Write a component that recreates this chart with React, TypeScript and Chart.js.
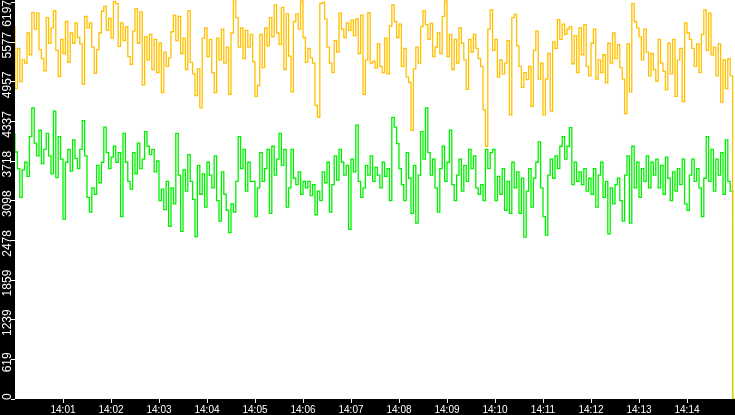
import { useEffect, useRef } from "react";
import Chart from "chart.js/auto";

// one sample every 3 s, starting at 14:00:00
const SAMPLE_SECONDS = 3;

const xTickLabels = [
  "14:01", "14:02", "14:03", "14:04", "14:05", "14:06", "14:07",
  "14:08", "14:09", "14:10", "14:11", "14:12", "14:13", "14:14",
];

const yTickStep = 619.7;
const yTickLabels = ["0", "619", "1239", "1859", "2478", "3098", "3718", "4337", "4957", "5577", "6197"];
const yMax = 6236;

const yellowValues = [
  5830, 4850, 5480, 4960, 5300, 5250, 5720, 5380, 6040, 5780,
  6030, 5460, 5320, 5130, 5960, 5560, 5800, 6070, 5450, 5040,
  5620, 5400, 5900, 5260, 5720, 5560, 5880, 5650, 5550, 4920,
  5980, 5800, 5880, 5500, 5090, 5460, 5720, 6060, 6140, 5760,
  5950, 5640, 6210, 6180, 5510, 5880, 5600, 5820, 5350, 5230,
  5750, 6100, 5560, 6050, 4910, 5660, 5300, 5700, 5150, 5620,
  5100, 5560, 4790, 5420, 5200, 5330, 5740, 6000, 5600, 5980,
  5400, 5640, 5150, 6070, 5260, 5080, 4740, 5160, 4550, 5640,
  5800, 5350, 5620, 5100, 4790, 5640, 5300, 5780, 5250, 5500,
  4760, 5720, 6240, 5960, 5500, 5800, 5320, 5760, 5500, 5700,
  5270, 4730, 4900, 5700, 5180, 5800, 5520, 5960, 5660, 6160,
  5720, 5540, 6120, 5150, 6020, 5360, 4800, 5900, 6020, 5780,
  6220, 5650, 5260, 5480, 5330, 5250, 4590, 4400, 6180, 6200,
  5940, 5500, 5250, 5100, 5600, 5420, 6030, 5780, 5650, 5880,
  5760, 5920, 5680, 5940, 5400, 6000, 4760, 5300, 6040, 5250,
  5280, 5170, 5550, 5200, 5100, 5640, 5080, 5830, 6160, 5900,
  5650, 5860, 5200, 5480, 5030, 4950, 4200, 5160, 5500, 5250,
  5820, 6070, 5850, 5620, 5870, 5350, 5500, 5720, 5400, 5980,
  6220, 5350, 5700, 5150, 5620, 5250, 5800, 5560, 5300, 4840,
  5620, 5420, 5700, 5480, 5320, 5200, 4520, 3950, 5780, 6080,
  5450, 5620, 5030, 5300, 5080, 5250, 5600, 4440, 5960, 6010,
  5520, 5200, 4870, 5100, 4990, 5200, 4575, 5450, 5750, 5000,
  5250, 4440, 5000, 5400, 4500, 5580, 5480, 5930, 5620, 5860,
  5700, 5780, 5820, 5240, 5680, 5100, 5800, 5380, 5850, 5200,
  5050, 5560, 5780, 5000, 5300, 5100, 5380, 4940, 5560, 5250,
  5720, 5320, 5540, 5180, 5000, 4460, 5550, 4800, 6180, 5900,
  5800, 5660, 5300, 5780, 5420, 5050, 5400, 5150, 4970, 5620,
  5250, 5120, 4830, 5560, 5080, 5620, 4730, 5300, 5480, 4650,
  5880, 5720, 5620, 5480, 5200, 5550, 5100, 5700, 6080, 5450,
  6030, 5380, 5500, 5050, 5550, 4640, 5300, 4850, 5320, 5050,
  0,
];

const greenValues = [
  4150, 3860, 3600, 3150, 3580, 3700, 3480, 4100, 4550, 4000,
  3800, 4200, 3680, 3900, 4150, 3800, 3520, 4500, 3460, 4100,
  3750, 2810, 3700, 3900, 3560, 4050, 3760, 3600, 3900, 4350,
  3800, 3150, 2920, 3300, 3200, 3650, 3380, 3700, 4250, 3850,
  3600, 3780, 3950, 3700, 3850, 2850, 4150, 3700, 3400, 3280,
  3850, 3520, 4000, 3600, 3750, 4180, 3950, 3820, 3900, 3550,
  3720, 3100, 3280, 2960, 3400, 2700, 3300, 3050, 4150, 3500,
  2620, 3580, 3250, 3820, 3400, 3120, 2540, 3650, 3200, 3520,
  3000, 3700, 3500, 3300, 3800, 3100, 2780, 3550, 3200, 2950,
  2600, 3050, 2920, 3400, 4100, 3600, 3900, 3250, 3700, 3400,
  3400, 2850, 3300, 3850, 3400, 3600, 3900, 2900, 3950, 3500,
  3750, 4150, 3650, 3900, 3000, 3300, 3900, 3450, 3350, 3550,
  3200, 3400, 3300, 3400, 3180, 3350, 2880, 3250, 3100, 3550,
  3380, 3700, 2920, 3350, 3800, 3420, 3900, 3700, 3500, 3650,
  2650, 3750, 3550, 4280, 3400, 3150, 3300, 3650, 3500, 3800,
  3400, 3620, 3500, 3300, 3700, 3480, 3600, 3100, 4400, 4250,
  3990, 3600, 3350, 3100, 3850, 3450, 2900, 3650, 2750, 3500,
  4180, 3750, 4550, 3850, 3500, 3750, 3300, 2920, 3600, 3950,
  3400, 3700, 4200, 3350, 3100, 3500, 3750, 3250, 3650, 3400,
  3900, 3600, 3800, 3300, 3200, 3350, 3100, 3900, 3600, 3850,
  3900, 3100, 3480, 3200, 3600, 2950, 3400, 2900, 3700, 3300,
  3550, 2900, 3450, 2530, 3250, 3600, 3000, 3450, 3700, 4020,
  3300, 2850, 2560, 3500, 3750, 3450, 3800, 3600, 3950, 4100,
  3750, 3950, 4240, 3350, 3700, 3400, 3550, 3350, 3600, 3250,
  3450, 3200, 3600, 3000, 3500, 3700, 3150, 3400, 2580, 3300,
  3050, 3350, 3450, 3100, 2780, 3500, 3800, 2750, 3950, 3300,
  3700, 3150, 3600, 3400, 3800, 3300, 3700, 3500, 3750, 3300,
  3650, 3200, 3780, 3450, 3100, 3550, 3250, 3600, 3350, 3750,
  3050, 2950, 3500, 3750, 3400, 3600, 3300, 2850, 3450, 4100,
  3400, 3900, 3250, 3750, 3500, 3850, 3200, 4050, 3400, 3250,
  0,
];

const toPoints = (values: number[]) =>
  values.map((v, i) => ({ x: i * SAMPLE_SECONDS, y: v }));

const backgroundPlugin = {
  id: "panelBackground",
  beforeDraw(chart: Chart) {
    const { ctx, chartArea } = chart;
    ctx.save();
    ctx.fillStyle = "#000";
    ctx.fillRect(0, 0, chart.width, chart.height);
    ctx.fillStyle = "#fff";
    ctx.fillRect(chartArea.left, chartArea.top, chartArea.right - chartArea.left, chartArea.bottom - chartArea.top);
    ctx.restore();
  },
};

// y labels are written sideways, reading bottom to top
const yLabelPlugin = {
  id: "sidewaysYLabels",
  afterDraw(chart: Chart) {
    const { ctx, chartArea } = chart;
    const scale = chart.scales.y;
    ctx.save();
    ctx.font = '12px "Liberation Sans"';
    ctx.fillStyle = "#fff";
    ctx.textAlign = "center";
    ctx.textBaseline = "middle";
    yTickLabels.forEach((label, i) => {
      const pos = scale.getPixelForValue(i * yTickStep);
      const half = ctx.measureText(label).width / 2;
      const center = Math.min(Math.max(pos + 3, half), chartArea.bottom + 1 - half);
      ctx.save();
      ctx.translate(8, center);
      ctx.rotate(-Math.PI / 2);
      ctx.fillText(label, 0, 0);
      ctx.restore();
    });
    ctx.restore();
  },
};

export default function App() {
  const canvasRef = useRef<HTMLCanvasElement | null>(null);

  useEffect(() => {
    document.body.style.margin = "0";
    const canvas = canvasRef.current;
    if (!canvas) return;

    const chart = new Chart(canvas, {
      type: "line",
      data: {
        datasets: [
          {
            data: toPoints(yellowValues),
            borderColor: "#ffc000",
            borderWidth: 1.3,
            pointRadius: 0,
            stepped: "after",
          },
          {
            data: toPoints(greenValues),
            borderColor: "#00f000",
            borderWidth: 1.3,
            pointRadius: 0,
            stepped: "after",
          },
        ],
      },
      options: {
        responsive: true,
        maintainAspectRatio: false,
        animation: false,
        layout: { padding: 0 },
        plugins: {
          legend: { display: false },
          tooltip: { enabled: false },
        },
        scales: {
          x: {
            type: "linear",
            min: 0,
            max: 900,
            afterFit: (s: any) => {
              s.height = 16;
            },
            afterBuildTicks: (s: any) => {
              s.ticks = xTickLabels.map((_, i) => ({ value: (i + 1) * 60 }));
            },
            border: { display: false },
            grid: {
              drawOnChartArea: false,
              drawTicks: true,
              tickLength: 4,
              color: "#fff",
            },
            ticks: {
              color: "#fff",
              padding: 1,
              maxRotation: 0,
              autoSkip: false,
              font: { family: "Liberation Sans", size: 10 },
              callback: (_v: any, i: number) => xTickLabels[i],
            },
          },
          y: {
            type: "linear",
            min: 0,
            max: yMax,
            afterFit: (s: any) => {
              s.width = 15;
            },
            afterBuildTicks: (s: any) => {
              s.ticks = yTickLabels.map((_, i) => ({ value: i * yTickStep }));
            },
            border: { display: false },
            grid: {
              drawOnChartArea: false,
              drawTicks: true,
              tickLength: 4,
              color: "#fff",
            },
            ticks: { display: false },
          },
        },
      },
      plugins: [backgroundPlugin, yLabelPlugin],
    });

    return () => chart.destroy();
  }, []);

  return (
    <div style={{ width: 735, height: 415, position: "relative" }}>
      <canvas ref={canvasRef} />
    </div>
  );
}
